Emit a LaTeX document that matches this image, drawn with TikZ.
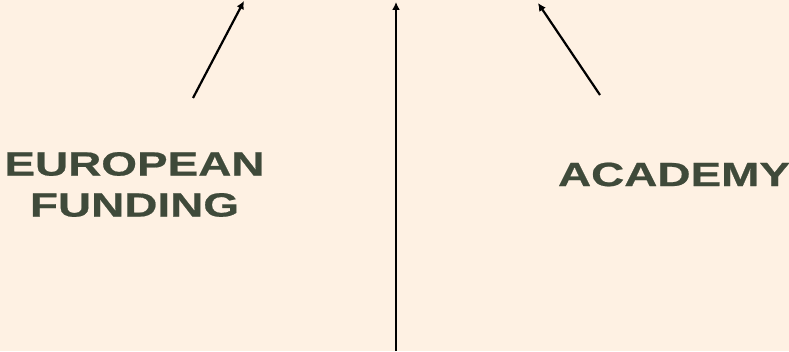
\documentclass[tikz,border=0pt]{standalone}
\usepackage{fontspec}
\newfontfamily\widebold{Liberation Sans Bold}[FakeStretch=1.37,FakeBold=0.6]
\usetikzlibrary{arrows.meta}
\definecolor{bg}{HTML}{FEF1E3}
\definecolor{txt}{HTML}{3F4A3A}
\tikzset{
  label/.style={font=\widebold\fontsize{33.5}{41}\selectfont, text=txt, align=center, inner sep=0pt},
  conn/.style={draw=black, line width=2.2pt, -{Latex[length=8pt,width=8pt]}}
}
\begin{document}
\begin{tikzpicture}[x=1pt,y=1pt]
\fill[bg] (0,0) rectangle (789,351);
\useasboundingbox (0,0) rectangle (789,351);
\node[label] (eu) at (134.5,166.5) {EUROPEAN\\FUNDING};
\node[label] (ac) at (674,176.5) {ACADEMY};
\coordinate (a1s) at (193,253);
\coordinate (a1e) at (244,350);
\coordinate (a2s) at (396,0);
\coordinate (a2e) at (396,349);
\coordinate (a3s) at (600,256);
\coordinate (a3e) at (538,348);
\draw[conn] (a1s) -- (a1e);
\draw[conn] (a2s) -- (a2e);
\draw[conn] (a3s) -- (a3e);
\end{tikzpicture}
\end{document}
